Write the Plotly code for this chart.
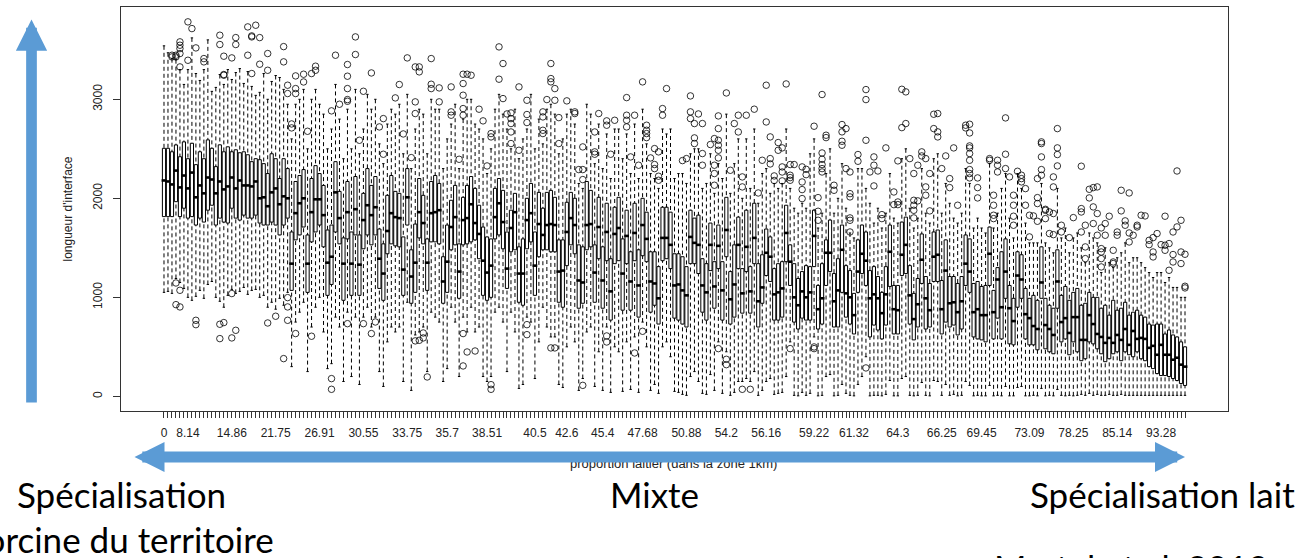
import plotly.graph_objects as go

# ---------------- data ----------------
box_index = list(range(1, 258))

x_tick_labels = ["0", "8.14", "14.86", "21.75", "26.91", "30.55", "33.75", "35.7", "38.51",
                 "40.5", "42.6", "45.4", "47.68", "50.88", "54.2", "56.16", "59.22", "61.32",
                 "64.3", "66.25", "69.45", "73.09", "78.25", "85.14", "93.28"]
x_tick_boxes = [1, 7, 18, 29, 40, 51, 62, 72, 82, 94, 102, 111, 121, 132, 142, 152, 164,
                174, 185, 196, 206, 218, 229, 240, 251]
y_tick_values = [0, 1000, 2000, 3000]

q1 = [1815,1815,1815,1966,1815,1900,1800,1815,1730,1800,
      1760,1880,1930,1730,1800,1760,1750,1900,1800,1780,
      1830,1800,1800,1830,1750,1730,1730,1760,1730,1630,
      1730,1800,1070,1580,1630,1710,1050,1560,1660,1730,
      1510,1020,1130,1660,1540,970,1590,1020,1630,1020,
      1490,1630,1530,1630,1090,970,1440,1540,1520,1510,
      1020,1730,940,1050,1600,1540,1070,1560,1560,1540,
      940,1050,1480,1530,990,1530,1540,1560,1580,1390,
      1020,970,1000,1590,1630,1490,1090,1460,1480,950,
      920,1490,1560,1020,1410,1480,1480,1460,1460,950,
      900,1320,1530,1440,890,940,1480,1510,950,1390,
      890,1370,770,1340,1370,870,1340,870,1370,800,
      1420,1360,850,920,730,1370,1390,1290,790,770,
      730,700,1340,1340,1240,850,770,1270,890,1290,
      770,1410,730,800,1290,840,1260,840,1340,700,
      940,1220,1160,770,770,800,1360,1120,750,680,
      790,770,770,1310,680,730,1120,1260,700,700,
      1050,800,730,630,1050,1240,1120,600,720,670,
      580,720,1110,630,630,1220,1240,730,570,700,
      1140,680,700,1160,1160,630,750,700,720,620,
      680,1120,1050,600,580,570,550,1120,580,790,
      580,990,530,520,900,990,580,520,520,470,
      990,480,450,430,890,550,580,420,550,450,
      360,380,550,530,480,430,350,380,430,450,
      360,450,420,400,450,380,360,300,280,230,
      210,210,200,180,160,130,110]

median = [2180,2170,2140,2280,2110,2230,2100,2260,2010,2130,
          2050,2210,2190,2050,2170,2090,2120,2210,2100,2180,
          2130,2130,2120,2170,2000,2010,1920,2060,2100,1940,
          2020,2000,1340,1850,1950,2000,1340,1860,1990,1990,
          1830,1350,1410,2060,1800,1340,1860,1340,1890,1330,
          1780,1930,1830,1910,1390,1240,1670,1850,1810,1800,
          1280,2010,1210,1350,1860,1750,1350,1850,1860,1880,
          1160,1360,1710,1810,1260,1780,1800,1940,1750,1640,
          1370,1250,1320,1810,1950,1760,1290,1700,1860,1240,
          1240,1780,1850,1320,1740,1630,1730,1740,1730,1260,
          1270,1660,1800,1730,1170,1150,1730,1740,1250,1710,
          1170,1660,1060,1640,1700,1240,1620,1160,1650,1120,
          1730,1590,1160,1140,990,1600,1600,1530,1120,1130,
          1070,1020,1610,1550,1530,1120,1050,1530,1110,1520,
          1070,1680,980,1130,1530,1040,1510,1060,1600,960,
          1100,1450,1410,1030,1050,1090,1650,1360,1000,920,
          1060,1000,1050,1620,880,990,1450,1450,960,1070,
          1480,1040,1000,820,1260,1440,1370,990,1030,990,
          840,1030,1460,880,870,1430,1530,1020,780,930,
          1380,990,870,1410,1430,880,1270,940,950,850,
          960,1340,1260,850,880,820,820,1440,850,1180,
          900,1260,890,760,1220,1180,830,790,710,680,
          1150,720,680,620,1160,750,790,640,800,800,
          570,570,820,730,630,600,540,590,540,620,
          570,680,520,660,580,590,580,490,510,420,
          520,420,420,370,390,320,300]

q3 = [2505,2505,2470,2539,2420,2570,2400,2556,2340,2470,
      2400,2590,2505,2320,2540,2470,2520,2470,2490,2460,
      2470,2440,2370,2400,2390,2350,2250,2450,2400,2200,
      2400,2300,1660,2170,2230,2290,1630,2200,2330,2250,
      2130,1680,1730,2370,2070,1600,2170,1660,2220,1630,
      2050,2300,2130,2220,1690,1540,2030,2230,2070,2050,
      1610,2300,1480,1740,2200,2030,1590,2170,2230,2150,
      1410,1730,1980,2130,1540,2010,2130,2220,2100,1930,
      1710,1610,1590,2100,2200,2080,1660,1880,2050,1510,
      1590,2000,2150,1660,2060,1900,2060,2080,2010,1580,
      1580,1960,2060,2000,1530,1510,2170,2080,1530,2010,
      1510,1950,1390,1910,2010,1590,1880,1460,1950,1480,
      2000,1860,1460,1460,1310,1910,1910,1860,1440,1440,
      1410,1310,1880,1800,1830,1390,1340,1750,1360,1730,
      1360,2010,1260,1530,1810,1290,1880,1310,1950,1340,
      1430,1690,1610,1290,1340,1360,1930,1530,1340,1190,
      1260,1320,1310,1880,1120,1340,1580,1780,1240,1390,
      1730,1320,1270,1040,1580,1730,1660,1270,1310,1210,
      1050,1310,1730,1120,1120,1760,1810,1320,1040,1190,
      1640,1210,1140,1660,1680,1170,1580,1210,1210,1140,
      1210,1630,1590,1140,1160,1110,1120,1710,1070,1300,
      1460,1590,1120,990,1460,1430,1090,990,1020,970,
      1510,990,920,890,1480,1020,1110,970,1050,1090,
      920,940,1050,1000,1000,890,920,820,970,870,
      890,950,820,850,870,820,800,730,720,730,
      730,630,670,620,600,550,500]

upper_whisker = [3540,3470,3410,3400,3300,3150,3300,3620,3260,3190,
                 3300,3600,3080,3120,3250,3150,3300,3200,3270,3310,
                 3160,3280,3130,3040,3070,3260,3000,3180,3240,3220,
                 3100,2950,2600,2950,3000,3100,2500,3000,3100,2950,
                 2850,2500,2700,3150,2800,2400,2900,2500,3100,2450,
                 2700,3050,2900,3000,2550,2350,2750,2900,2850,2950,
                 2450,3050,2300,2700,2900,2850,2450,3000,2900,2900,
                 2300,2600,2750,2950,2300,2800,3000,3000,2750,2700,
                 2600,2250,2500,2900,3050,2850,2700,2500,2900,2400,
                 2600,2700,3050,2500,2800,2550,2900,2950,2850,2450,
                 2600,2850,2900,2750,2150,2100,2950,2850,2350,2750,
                 2300,2650,2200,2700,2700,2400,2650,2250,2750,2200,
                 2900,2550,2250,2200,2100,2700,2650,2700,2200,2250,
                 2250,2150,2450,2500,2500,2100,2150,2450,2050,2350,
                 2200,2850,2050,2350,2600,2000,2600,2100,2700,1950,
                 2250,2300,2050,2150,2100,2150,2700,2100,1900,1850,
                 1950,1900,2450,2600,1700,1850,2250,2500,1850,2000,
                 2350,1900,1650,1600,2300,2300,2100,1950,1750,1900,
                 1700,1850,2250,1800,1750,2400,2500,1900,1700,1800,
                 2300,1850,1750,2400,2450,1850,2150,1950,1800,1750,
                 1850,2300,2150,1700,1800,1700,1650,2350,1700,1850,
                 2100,2250,1800,1600,2250,2100,1750,1550,1550,1550,
                 2150,1550,1500,1450,2100,1600,1700,1450,1600,1650,
                 1500,1350,1650,1600,1550,1250,1500,1350,1300,1400,
                 1450,1550,1350,1400,1400,1350,1300,1250,1200,1250,
                 1250,1150,1200,1100,1100,1000,1000]

lower_whisker = [1050,1060,1040,1190,1150,1090,1000,970,1010,1070,
                 990,1130,1160,1000,960,900,1020,1080,1040,1060,
                 1100,1030,1070,1080,1000,1020,900,950,880,990,
                 920,1050,300,750,850,950,250,700,900,1000,
                 650,280,330,800,700,150,850,200,800,120,
                 800,900,700,800,250,100,550,700,650,700,
                 150,950,60,620,650,700,250,850,800,750,
                 150,280,900,750,200,800,650,900,650,700,
                 200,150,200,850,900,750,250,850,650,80,
                 120,800,750,180,550,900,700,600,600,120,
                 90,500,700,550,60,180,650,700,100,450,
                 60,700,40,500,450,50,550,70,600,40,
                 750,500,60,120,30,500,550,400,50,40,
                 20,10,200,250,150,30,20,220,60,550,
                 30,450,10,40,150,150,180,150,250,10,
                 60,150,180,20,30,40,200,550,10,5,
                 40,10,30,600,5,10,200,220,5,10,
                 120,30,10,5,120,200,400,5,10,10,
                 5,20,160,5,5,180,200,10,5,10,
                 140,10,5,160,150,10,120,10,20,5,
                 10,150,110,5,10,5,5,110,5,10,
                 5,100,5,5,90,100,5,5,10,5,
                 80,5,10,5,70,10,5,10,5,10,
                 20,10,30,10,20,10,10,20,10,10,
                 20,10,10,10,10,10,10,10,10,10,
                 10,10,10,10,10,10,10]

outlier_box = [
    7,8,22,24,23,23,25,15,19,19,15,5,5,5,9,3,3,4,4,5,5,7,11,11,16,18,16,16,22,23,25,27,27,31,31,
    34,36,36,38,39,39,32,32,34,34,33,33,37,43,45,44,47,47,47,47,47,49,49,50,51,53,55,56,56,59,60,
    61,62,63,64,64,64,
    4,5,4,5,9,9,15,16,15,18,19,18,27,29,31,32,32,32,34,38,43,43,47,51,53,54,64,
    85,86,85,68,65,65,68,68,70,70,76,77,78,76,76,76,76,73,73,73,75,80,81,83,83,82,86,87,88,88,88,
    88,88,90,90,92,92,92,96,96,96,96,98,98,98,99,97,99,100,100,102,104,104,105,106,106,106,109,109,
    109,110,112,112,114,113,117,117,117,117,119,118,121,120,122,122,122,122,123,124,125,124,124,125,
    125,126,126,127,
    65,66,66,67,76,77,79,76,83,83,92,92,98,99,106,112,112,119,121,
    133,133,133,134,134,134,135,136,136,136,131,132,142,138,139,140,140,140,140,140,140,139,139,139,
    143,144,145,145,146,146,147,149,150,152,152,153,151,153,153,155,155,156,154,154,156,156,156,157,
    158,158,158,158,159,161,162,162,161,161,161,164,165,165,165,166,167,167,166,166,166,166,166,169,
    169,171,171,171,171,172,172,173,173,173,173,173,173,175,175,177,177,177,178,179,179,180,179,182,
    181,181,184,184,185,185,185,186,187,187,186,188,189,189,189,189,189,190,190,191,191,192,192,192,
    193,193,194,194,
    140,142,142,146,148,158,164,164,177,
    195,195,195,196,197,199,198,198,200,202,202,203,203,203,203,203,203,203,203,203,205,205,205,208,
    208,210,210,210,212,212,212,213,209,209,209,209,214,214,214,214,215,216,216,216,217,217,218,218,
    220,221,221,221,221,221,220,219,220,220,222,222,223,224,222,223,224,224,224,225,225,225,225,226,
    226,228,229,231,231,231,231,232,232,232,233,233,234,234,235,235,234,235,236,236,236,236,236,237,
    237,238,239,239,239,240,240,241,241,242,242,243,243,243,244,245,245,246,247,248,248,249,249,249,
    250,251,252,252,253,253,252,254,254,254,255,255,256,256,256,257,257,257]

outlier_value = [
    3782,3714,3731,3748,3640,3630,3623,3647,3623,3553,3553,3580,3546,3512,3519,3445,3428,3445,3428,
    3327,3462,3394,3411,3378,3435,3418,3243,3250,3445,3260,3354,3462,3293,3532,3378,3236,3253,3175,
    3260,3334,3293,3142,3058,3058,3108,2751,2711,2677,2883,2950,3445,3351,3233,3108,2997,2980,3630,
    3452,2586,3081,3266,2721,2805,2445,3014,3149,2650,3418,2411,2974,2856,3327,
    1145,1071,926,903,768,724,728,745,583,590,667,1038,741,809,381,997,903,768,634,607,179,71,734,
    734,634,751,560,
    3529,3361,3203,3411,3327,3277,3152,3108,3115,2974,3253,3253,3243,3159,3041,2906,2839,3125,2873,
    2839,2394,2900,2782,2654,2620,2327,3007,2852,2862,2805,2755,2670,2553,3125,2485,2990,2846,2765,
    2873,2822,2687,2654,3361,3209,3176,3108,2997,2990,2815,2553,2984,2873,2856,2290,2290,2189,2519,
    2670,2469,2445,2856,2782,2738,2788,2445,3017,2839,2788,2721,2839,2418,3176,2334,2738,2687,2654,
    2613,2408,2502,2469,2341,2300,2223,2182,2906,2839,3108,
    566,590,640,196,634,448,458,307,118,71,724,623,489,489,111,610,549,438,657,
    3034,2873,2805,2755,2610,2553,2852,2755,2452,2334,2381,2401,3064,2543,2603,2832,2704,2586,2536,
    2485,2408,2334,2250,2132,2283,2755,2839,2670,2216,2115,2839,2900,2054,3142,2771,2620,2384,2401,
    2347,2563,2485,2509,2226,2180,2317,2266,2176,3155,2341,2233,2209,2182,2341,2317,2293,2239,2165,
    2088,1997,2728,2007,1869,1778,3048,2637,2613,2458,2394,2341,2300,2266,2132,2081,2745,2671,2576,
    2536,2704,2300,2266,2047,2014,1802,1778,1660,2442,2374,3098,2997,2586,2266,2418,2334,2276,2125,
    2509,1835,1795,2064,1936,1963,1936,2378,3101,3075,2755,2714,2401,2250,1980,1930,1879,1802,1974,
    2334,2469,2428,2401,2115,2031,2250,1873,2849,2704,
    482,374,320,71,71,482,499,482,287,
    2856,2671,2620,2300,2428,2509,2199,2108,1930,2738,2711,2748,2660,2529,2509,2452,2384,2290,2250,
    2206,2206,2108,2004,2401,2384,2384,2334,2266,2812,2445,2300,2216,2031,1930,1829,1795,2031,1930,
    1819,1728,2273,2233,2199,2166,2098,1930,1829,1610,2199,2570,2553,2418,2290,2233,2007,1822,1947,
    1768,1889,1879,1862,1846,1795,1644,1633,2216,2115,2704,2509,2442,2327,1728,1660,1603,1805,2324,
    1896,1862,1660,1728,1509,1391,2091,2004,2108,1913,1846,2115,1745,1627,1701,1492,1458,1391,1307,
    1745,1627,1819,1475,1357,1341,1660,1627,1873,2081,1772,1728,2054,1650,1559,1627,1711,1728,1829,
    1822,1576,1532,1603,1458,1408,1644,1532,1526,1475,1273,1543,1819,1660,1432,1357,2276,1711,1778,
    1458,1341,1435,1112,1095]

assert len(q1) == len(median) == len(q3) == len(upper_whisker) == len(lower_whisker) == 257
assert len(outlier_box) == len(outlier_value)

# ---------------- geometry built from the data ----------------
BOX_HALF = 0.4
MED_HALF = 0.6
STAPLE_HALF = 0.3

box_x, box_y = [], []
med_x, med_y = [], []
wh_x, wh_y = [], []
st_x, st_y = [], []
for i, a, m, b, hi, lo in zip(box_index, q1, median, q3, upper_whisker, lower_whisker):
    box_x += [i - BOX_HALF, i + BOX_HALF, i + BOX_HALF, i - BOX_HALF, i - BOX_HALF, None]
    box_y += [a, a, b, b, a, None]
    med_x += [i - MED_HALF, i + MED_HALF, None]
    med_y += [m, m, None]
    wh_x += [i, i, None, i, i, None]
    wh_y += [hi, b, None, lo, a, None]
    st_x += [i - STAPLE_HALF, i + STAPLE_HALF, None, i - STAPLE_HALF, i + STAPLE_HALF, None]
    st_y += [hi, hi, None, lo, lo, None]

fig = go.Figure()
fig.add_trace(go.Scatter(x=wh_x, y=wh_y, mode="lines", hoverinfo="skip",
                         line=dict(color="black", width=1, dash="4px,3px")))
fig.add_trace(go.Scatter(x=st_x, y=st_y, mode="lines", hoverinfo="skip",
                         line=dict(color="black", width=1)))
fig.add_trace(go.Scatter(x=box_x, y=box_y, mode="lines", hoverinfo="skip",
                         line=dict(color="black", width=1)))
fig.add_trace(go.Scatter(x=med_x, y=med_y, mode="lines", hoverinfo="skip",
                         line=dict(color="black", width=2.6)))
fig.add_trace(go.Scatter(x=outlier_box, y=outlier_value, mode="markers", hoverinfo="skip",
                         marker=dict(symbol="circle-open", size=6.5, color="black",
                                     line=dict(width=0.8, color="black"))))

tick_text = [""] * len(box_index)
for b, lab in zip(x_tick_boxes, x_tick_labels):
    tick_text[b - 1] = lab

# plot area in pixels: x 121..1228, y 7..411
L, R_, T, B = 121, 1228, 7, 411
def px(x):
    return (x - L) / (R_ - L)
def py(y):
    return (B - y) / (B - T)

n = len(box_index)
AX_FONT = dict(family="Liberation Sans, Arial, sans-serif", size=12, color="#222")
BIG = dict(family="Lato, sans-serif", size=35, color="black")
BLUE = "#5B9BD5"

annotations = [
    dict(text="longueur d'interface", xref="paper", yref="paper", x=px(67.5), y=0.5,
         textangle=-90, showarrow=False, font=AX_FONT, xanchor="center", yanchor="middle"),
    dict(text="proportion laitier (dans la zone 1km)", xref="paper", yref="paper",
         x=px(673), y=py(464), showarrow=False, xanchor="center", yanchor="middle",
         font=dict(family="Liberation Sans, Arial, sans-serif", size=13, color="#222")),
    # horizontal double arrow
    dict(text="", xref="paper", yref="paper", x=px(1185), y=py(457),
         axref="pixel", ayref="pixel", ax=133 - 1185, ay=0, showarrow=True,
         arrowhead=2, startarrowhead=2, arrowside="end+start",
         arrowsize=0.545, startarrowsize=0.545, arrowwidth=11, arrowcolor=BLUE,
         standoff=0, startstandoff=0),
    # vertical arrow
    dict(text="", xref="paper", yref="paper", x=px(31.5), y=py(19.5),
         axref="pixel", ayref="pixel", ax=0, ay=404 - 19.5, showarrow=True,
         arrowhead=2, arrowsize=0.585, arrowwidth=10.7, arrowcolor=BLUE,
         standoff=0),
    dict(text="Spécialisation", xref="paper", yref="paper", x=px(121), y=py(494),
         showarrow=False, font=BIG, xanchor="center", yanchor="middle"),
    dict(text="porcine du territoire", xref="paper", yref="paper", x=px(120), y=py(539),
         showarrow=False, font=BIG, xanchor="center", yanchor="middle"),
    dict(text="Mixte", xref="paper", yref="paper", x=px(654), y=py(494),
         showarrow=False, font=BIG, xanchor="center", yanchor="middle"),
    dict(text="Spécialisation lait", xref="paper", yref="paper", x=px(1162), y=py(494),
         showarrow=False, font=BIG, xanchor="center", yanchor="middle"),
    dict(text="Martel et al. 2019", xref="paper", yref="paper", x=px(992), y=py(567),
         showarrow=False, font=BIG, xanchor="left", yanchor="middle"),
]

fig.update_layout(
    width=1307, height=558,
    margin=dict(l=L, r=1307 - R_, t=T, b=558 - B, pad=0),
    plot_bgcolor="white", paper_bgcolor="white",
    showlegend=False,
    xaxis=dict(range=[0.5 - 0.04 * n, n + 0.5 + 0.04 * n], tickmode="array",
               tickvals=box_index, ticktext=tick_text, ticks="outside", ticklen=6,
               tickwidth=1, tickcolor="#333", showline=True, linecolor="#333",
               linewidth=1, mirror=True, showgrid=False, zeroline=False, tickangle=0,
               tickfont=AX_FONT, ticklabelstandoff=5, automargin=False),
    yaxis=dict(range=[-148, 3932], tickmode="array", tickvals=y_tick_values,
               ticktext=[str(v) for v in y_tick_values], ticks="outside", ticklen=7,
               tickwidth=1, tickcolor="#333", showline=True, linecolor="#333",
               linewidth=1, mirror=True, showgrid=False, zeroline=False, tickangle=-90,
               tickfont=AX_FONT, ticklabelstandoff=6, automargin=False),
    annotations=annotations,
)

fig.write_html(
    "out.html",
    config={"displayModeBar": False, "staticPlot": True},
    post_script="document.body.style.margin='0';document.body.style.padding='0';"
                "document.documentElement.style.overflow='hidden';",
)
